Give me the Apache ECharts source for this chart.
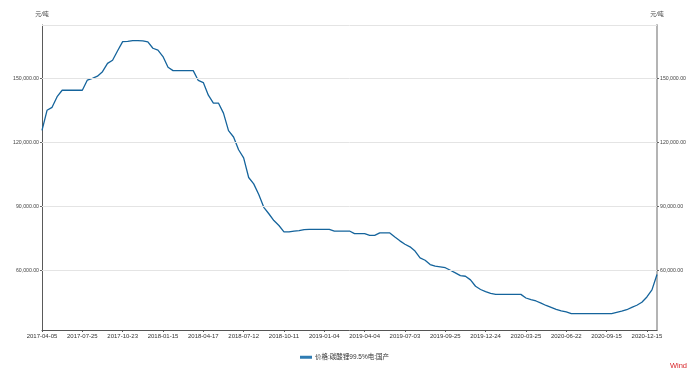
<!DOCTYPE html>
<html>
<head>
<meta charset="utf-8">
<script src="https://cdn.jsdelivr.net/npm/echarts@6/dist/echarts.min.js"></script>
<style>
    html, body { margin: 0; padding: 0; background: #fff; }
    #chart { width: 700px; height: 376px; }
</style>
</head>
<body>
<div id="chart"></div>
<script>
// 日期 (每8个点一个标签)
const dates = [
    '2017-04-05', '2017-04-19', '2017-05-04', '2017-05-18', '2017-06-01', '2017-06-15', '2017-06-29', '2017-07-12',
    '2017-07-25', '2017-08-04', '2017-08-16', '2017-08-28', '2017-09-07', '2017-09-19', '2017-09-29', '2017-10-12',
    '2017-10-23', '2017-11-02', '2017-11-13', '2017-11-23', '2017-12-05', '2017-12-15', '2017-12-25', '2018-01-04',
    '2018-01-15', '2018-01-26', '2018-02-07', '2018-02-26', '2018-03-08', '2018-03-20', '2018-03-30', '2018-04-10',
    '2018-04-17', '2018-04-27', '2018-05-10', '2018-05-21', '2018-05-31', '2018-06-11', '2018-06-21', '2018-07-02',
    '2018-07-12', '2018-07-24', '2018-08-03', '2018-08-15', '2018-08-27', '2018-09-06', '2018-09-18', '2018-09-28',
    '2018-10-11', '2018-10-23', '2018-11-02', '2018-11-14', '2018-11-26', '2018-12-06', '2018-12-14', '2018-12-25',
    '2019-01-04', '2019-01-16', '2019-01-28', '2019-02-13', '2019-02-25', '2019-03-07', '2019-03-19', '2019-03-27',
    '2019-04-04', '2019-04-16', '2019-04-26', '2019-05-10', '2019-05-22', '2019-06-03', '2019-06-14', '2019-06-24',
    '2019-07-03', '2019-07-15', '2019-07-25', '2019-08-06', '2019-08-16', '2019-08-28', '2019-09-06', '2019-09-17',
    '2019-09-25', '2019-10-14', '2019-10-24', '2019-11-05', '2019-11-15', '2019-11-27', '2019-12-06', '2019-12-16',
    '2019-12-24', '2020-01-06', '2020-01-16', '2020-02-06', '2020-02-18', '2020-02-28', '2020-03-10', '2020-03-18',
    '2020-03-25', '2020-04-07', '2020-04-17', '2020-04-29', '2020-05-13', '2020-05-25', '2020-06-04', '2020-06-12',
    '2020-06-22', '2020-07-03', '2020-07-15', '2020-07-27', '2020-08-06', '2020-08-18', '2020-08-28', '2020-09-07',
    '2020-09-15', '2020-09-25', '2020-10-14', '2020-10-26', '2020-11-05', '2020-11-17', '2020-11-27', '2020-12-07',
    '2020-12-15', '2020-12-23', '2020-12-31'
];

// 价格:碳酸锂99.5%电:国产 (元/吨)
const prices = [
    125600, 135000, 136400, 141400, 144400, 144400, 144400, 144400,
    144400, 149200, 150000, 151000, 153100, 157000, 158500, 162900,
    167200, 167300, 167700, 167700, 167600, 167100, 164100, 163200,
    160200, 155200, 153600, 153600, 153600, 153600, 153600, 149000,
    148000, 142100, 138400, 138400, 133700, 125500, 122500, 116500,
    112700, 103500, 100500, 95500, 89500, 86500, 83300, 81000,
    78000, 78000, 78400, 78600, 79100, 79200, 79200, 79200,
    79200, 79200, 78400, 78400, 78400, 78400, 77200, 77200,
    77200, 76400, 76400, 77500, 77500, 77500, 75600, 73800,
    72200, 71000, 69000, 65800, 64700, 62700, 61900, 61600,
    61200, 60000, 58800, 57500, 57200, 55500, 52500, 51000,
    50000, 49200, 48700, 48700, 48700, 48700, 48700, 48700,
    47000, 46200, 45600, 44600, 43500, 42600, 41700, 41000,
    40500, 39700, 39700, 39700, 39700, 39700, 39700, 39700,
    39700, 39700, 40300, 40800, 41500, 42600, 43600, 45000,
    47500, 50800, 58000
];

const yTicks = [60000, 90000, 120000, 150000];
const gridLines = [60000, 90000, 120000, 150000, 175000];
const yMin = 32000;
const yMax = 175000;
const seriesName = '价格:碳酸锂99.5%电:国产';
const unit = '元/吨';

const FONT = '"Liberation Sans", "Noto Sans CJK SC", sans-serif';

function fmt(v) {
    return v.toLocaleString('en-US', { minimumFractionDigits: 2, maximumFractionDigits: 2 });
}

function yAxisCfg(pos, lineColor, lineWidth) {
    return {
        type: 'value',
        position: pos,
        min: yMin,
        max: yMax,
        name: unit,
        nameLocation: 'end',
        nameGap: 8,
        nameTextStyle: { color: '#444', fontSize: 6, fontFamily: FONT },
        axisLine: { show: true, lineStyle: { color: lineColor, width: lineWidth } },
        axisTick: { show: true, length: 2, customValues: yTicks, lineStyle: { color: '#666' } },
        axisLabel: {
            customValues: yTicks,
            fontSize: 5.2,
            color: '#444',
            fontFamily: FONT,
            margin: 3,
            formatter: fmt
        },
        splitLine: { show: false }
    };
}

const chart = echarts.init(document.getElementById('chart'));
chart.setOption({
    animation: false,
    textStyle: { fontFamily: FONT },
    grid: { left: 42, right: 43, top: 25, bottom: 46 },
    legend: {
        left: 295,
        top: 349,
        icon: 'rect',
        itemWidth: 12,
        itemHeight: 3,
        itemGap: 10,
        textStyle: { fontSize: 6.5, color: '#333', fontFamily: FONT, padding: [0, 0, 0, -2] },
        data: [seriesName]
    },
    xAxis: {
        type: 'category',
        data: dates,
        boundaryGap: false,
        axisLine: { lineStyle: { color: '#555', width: 1 } },
        axisTick: { interval: 7, length: 2, lineStyle: { color: '#555' } },
        axisLabel: { interval: 7, fontSize: 6, color: '#333', margin: 3, fontFamily: FONT },
        splitLine: { show: false }
    },
    yAxis: [
        yAxisCfg('left', '#5a5a5a', 1),
        yAxisCfg('right', '#b4b4b4', 2)
    ],
    series: [{
        name: seriesName,
        type: 'line',
        yAxisIndex: 0,
        data: prices,
        showSymbol: false,
        symbol: 'none',
        lineStyle: { color: '#15649c', width: 1.3 },
        itemStyle: { color: '#2f7cb3' },
        markLine: {
            silent: true,
            symbol: 'none',
            label: { show: false },
            lineStyle: { color: '#e4e4e4', width: 1, type: 'solid' },
            data: gridLines.map(v => ({ yAxis: v }))
        },
        z: 3
    }],
    graphic: [{
        type: 'text',
        right: 13,
        top: 362,
        style: { text: 'Wind', fill: '#d8262a', fontSize: 7.5, fontFamily: FONT }
    }]
});
</script>
</body>
</html>
